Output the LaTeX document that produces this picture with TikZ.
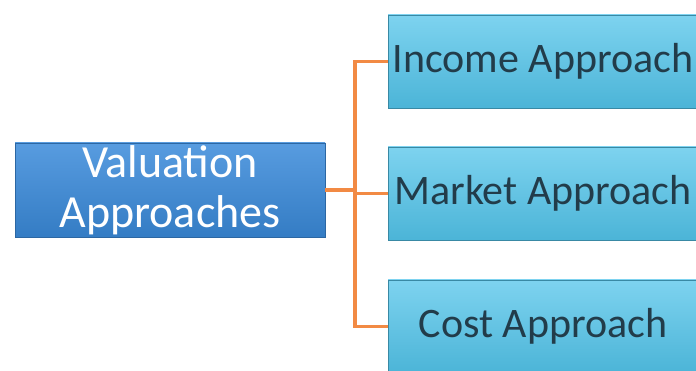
\documentclass[tikz,border=0pt]{standalone}
\usepackage{fontspec}
\setmainfont{Carlito}
\usetikzlibrary{positioning}
\definecolor{mainblue}{RGB}{58,138,218}
\definecolor{subcyan}{RGB}{82,196,234}
\definecolor{linkorange}{RGB}{242,138,68}
\definecolor{subtext}{RGB}{34,60,74}

\begin{document}
\begin{tikzpicture}[x=1pt, y=-1pt, inner sep=0pt,
   mainbox/.style={draw=mainblue!75!black, line width=0.8pt, top color=mainblue!85!white, bottom color=mainblue!90!black,
     minimum width=310pt, minimum height=94pt, align=center, text=white,
     font=\fontsize{46}{50}\selectfont},
   subbox/.style={draw=subcyan!70!black, line width=0.8pt, top color=subcyan!75!white, bottom color=subcyan!92!black,
     minimum width=310pt, minimum height=93pt, text=subtext,
     font=\fontsize{42}{46}\selectfont},
   link/.style={draw=linkorange, line width=3.2pt}
   ]
   \useasboundingbox (0,0) rectangle (696,371);
   \clip (0,0) rectangle (696,371);

   \path (170,190) node[mainbox] (V) {Valuation\\Approaches};
   \path (543,61.5) node[subbox] (I) {Income Approach}
   (543,193.5) node[subbox] (M) {Market Approach}
   (543,326.5) node[subbox] (C) {Cost Approach};

   \draw[link] (V.east) -- (355,190) coordinate (fork);
   \draw[link] (fork) |- (I.west);
   \draw[link] (fork) |- (M.west);
   \draw[link] (fork) |- (C.west);

\end{tikzpicture}
\end{document}
